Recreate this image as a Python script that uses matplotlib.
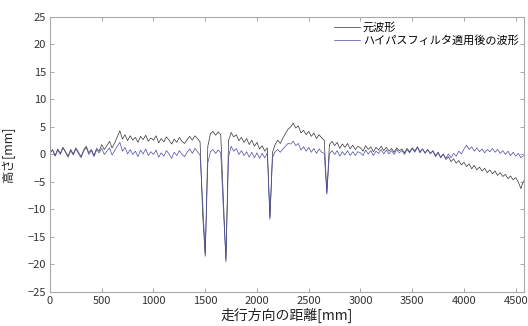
import numpy as np
import matplotlib
matplotlib.use("Agg")
import matplotlib.pyplot as plt

plt.rcParams["font.family"] = ["Noto Sans CJK JP", "DejaVu Sans"]

# sample spacing along the travel direction [mm]
STEP = 25

# original waveform (元波形), one row = 250 mm
orig = [
    0.3, 0.8, -0.2, 1.0, 0.2, 1.3, 0.5, -0.3, 0.9, 0.1,
    1.2, 0.4, -0.4, 0.8, 1.5, 0.3, 0.9, -0.2, 1.1, 0.6,
    1.8, 0.9, 1.6, 2.4, 1.2, 2.1, 3.2, 4.3, 2.8, 3.6,
    2.5, 3.4, 2.6, 3.1, 2.2, 3.3, 2.7, 3.5, 2.4, 3.0,
    2.6, 3.4, 2.1, 2.9, 2.3, 3.2, 2.6, 1.9, 2.8, 2.2,
    3.1, 2.4, 2.0, 2.7, 3.3, 2.6, 3.4, 2.9, 2.3, -11.0,
    -18.5, 1.5, 3.8, 4.2, 3.5, 4.1, 3.6, -8.0, -19.5, 2.5,
    4.0, 3.2, 3.6, 2.5, 3.1, 2.2, 2.9, 1.8, 2.6, 1.5,
    2.2, 1.0, 1.6, 0.6, 1.2, -11.5, 0.4, 1.8, 2.6, 2.0,
    3.0, 3.8, 4.6, 5.0, 5.7, 4.8, 5.2, 3.9, 4.4, 3.6,
    4.2, 3.3, 3.9, 2.9, 3.6, 3.0, 2.6, -7.0, 1.8, 2.4,
    1.6, 2.2, 1.1, 1.9, 1.3, 2.0, 1.0, 1.7, 0.9, 1.5,
    1.2, 0.6, 1.6, 0.9, 1.4, 0.5, 1.3, 0.8, 1.5, 0.7,
    1.3, 0.6, 1.1, 0.4, 1.2, 0.7, 1.0, 0.3, 1.1, 0.5,
    1.2, 0.6, 1.4, 0.5, 1.0, 0.3, 0.9, 0.2, 0.7, -0.2,
    0.4, -0.5, 0.1, -0.9, -0.4, -1.3, -0.8, -1.6, -1.1, -1.9,
    -1.4, -2.2, -1.7, -2.6, -2.0, -2.8, -2.3, -3.0, -2.5, -3.3,
    -2.8, -3.5, -3.0, -3.8, -3.3, -4.0, -3.6, -4.4, -3.9, -4.6,
    -4.2, -5.0, -6.2, -4.8,
]

# after high-pass filter (ハイパスフィルタ適用後の波形)
filtered = [
    0.2, 0.9, -0.3, 0.8, 0.0, 1.2, 0.4, -0.5, 0.7, -0.1,
    1.0, 0.2, -0.6, 0.6, 1.3, 0.0, 0.7, -0.4, 0.8, 0.3,
    1.1, 0.0, 0.6, 1.2, -0.1, 0.7, 1.5, 2.2, 0.6, 1.3,
    0.1, 0.9, 0.0, 0.6, -0.4, 0.8, 0.1, 1.0, -0.2, 0.5,
    0.0, 0.8, -0.5, 0.3, -0.3, 0.7, 0.1, -0.7, 0.4, -0.2,
    0.7, 0.0, -0.4, 0.4, 1.0, 0.2, 1.1, 0.5, -0.1, -8.5,
    -18.0, -1.5, 0.5, 0.9, 0.2, 0.8, 0.3, -10.0, -19.0, -0.5,
    1.5, 0.6, 1.1, 0.0, 0.7, -0.2, 0.5, -0.5, 0.4, -0.6,
    0.3, -0.7, 0.2, -0.6, 0.3, -11.8, -0.6, 0.5, 0.9, 0.4,
    1.0, 1.5, 2.0, 1.9, 2.4, 1.6, 2.0, 0.8, 1.4, 0.6,
    1.3, 0.4, 1.1, 0.2, 1.0, 0.4, 0.2, -7.2, 0.1, 0.7,
    0.0, 0.7, -0.3, 0.5, -0.1, 0.7, -0.2, 0.5, -0.2, 0.5,
    0.3, -0.2, 0.8, 0.1, 0.7, -0.2, 0.6, 0.2, 0.9, 0.1,
    0.8, 0.1, 0.7, 0.0, 0.9, 0.3, 0.7, 0.0, 0.9, 0.3,
    1.1, 0.4, 1.3, 0.3, 1.0, 0.2, 0.9, 0.1, 0.6, -0.4,
    0.3, -0.6, 0.0, -0.7, 0.1, -0.6, 0.2, -0.3, 0.6, 0.1,
    1.0, 1.7, 0.9, 1.4, 0.6, 1.2, 0.5, 1.0, 0.3, 0.9,
    0.5, 1.1, 0.4, 0.9, 0.2, 0.7, 0.0, 0.6, -0.2, 0.4,
    -0.3, 0.2, -0.6, -0.2,
]

dist = np.arange(len(orig)) * STEP

x_ticks = [0, 500, 1000, 1500, 2000, 2500, 3000, 3500, 4000, 4500]
y_ticks = [-25, -20, -15, -10, -5, 0, 5, 10, 15, 20, 25]

fig = plt.figure(figsize=(5.28, 3.26), dpi=100)
ax = fig.add_axes([0.0947, 0.1043, 0.8977, 0.8437])

ax.plot(dist, orig, color="#333333", linewidth=0.5, label="元波形")
ax.plot(dist, filtered, color="#4a4aa6", linewidth=0.5, label="ハイパスフィルタ適用後の波形")

ax.set_xlim(0, 4580)
ax.set_ylim(-25, 25)
ax.set_xticks(x_ticks)
ax.set_yticks(y_ticks)
ax.tick_params(direction="in", top=True, right=True, length=3, width=0.6,
               color="#999999", labelsize=8, labelcolor="#333333", pad=3)
for sp in ax.spines.values():
    sp.set_color("#aaaaaa")
    sp.set_linewidth(0.8)

ax.set_xlabel("走行方向の距離[mm]", fontsize=10, color="#222222", labelpad=1)
ax.set_ylabel("高さ[mm]", fontsize=9, color="#222222", labelpad=9)

ax.legend(loc="upper right", frameon=False, fontsize=8, handlelength=2.4,
          handletextpad=0.2, borderaxespad=0.1, labelspacing=0.15)

fig.savefig("out.png", dpi=100)
